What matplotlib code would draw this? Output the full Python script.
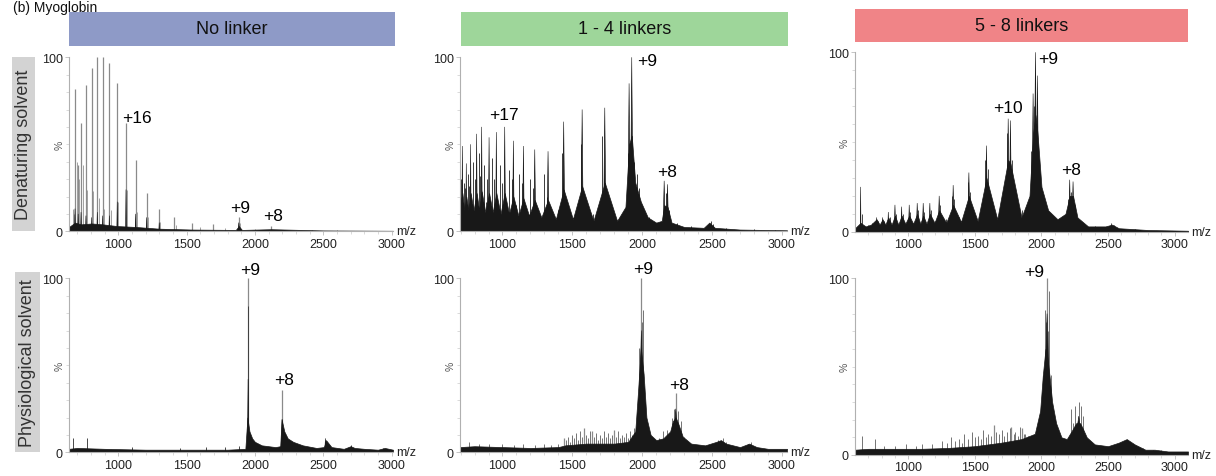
import matplotlib
matplotlib.use("Agg")
import matplotlib.pyplot as plt
from matplotlib.patches import Rectangle

plt.rcParams['font.family'] = ['Liberation Sans', 'DejaVu Sans']

W, H = 1216, 477

# ---------------- data (m/z, relative intensity %) ----------------
col_titles = ["No linker", "1 - 4 linkers", "5 - 8 linkers"]
row_titles = ["Denaturing solvent", "Physiological solvent"]
x_ticks = [1000, 1500, 2000, 2500, 3000]

# Panel A: denaturing, no linker
A_xlim = (640, 3010)
A_env_mz = [640, 684, 728, 806, 886, 993, 1127, 1300, 1541, 1860, 1882, 1905, 2121, 2500, 3010]
A_env_hi = [2.5, 5, 4, 4.5, 4, 3, 2.5, 1.5, 1, 0.8, 3, 0.8, 1.2, 0.5, 0.3]
A_pk_mz = [684, 707, 728, 764, 806, 847, 886, 935, 993, 1057, 1127, 1208, 1300, 1882]
A_pk_h = [13, 10, 11, 9, 8, 11, 9, 9, 17, 24, 10, 8, 5, 5]
A_pk_w = [3, 3, 3, 3, 3, 3, 3, 3, 3, 3, 3, 3, 3, 5]
A_major_mz = [684, 707, 728, 764, 806, 847, 886, 935, 993, 1057, 1127, 1208, 1300, 1410, 1541, 1695, 1882, 2121]
A_major_h = [82, 38, 62, 84, 94, 100, 100, 97, 85, 62, 41, 22, 13, 8, 5, 4, 8.5, 3]
A_line_mz = [667, 676, 695, 716, 740, 775, 818, 858, 898, 946, 1000, 1064, 1134, 1215, 1308, 1420, 1600, 1780,
             1888, 2000, 2200, 2420, 2600]
A_line_h = [13, 10, 40, 30, 38, 24, 23, 19, 13, 12, 17, 24, 11, 8, 5.5, 3.6, 2.3, 1.7, 5, 1.3, 1, 1, 0.8]
A_labels = [("+16", 1137, 65.4), ("+9", 1890, 13.4), ("+8", 2131, 9.1)]

# Panel B: denaturing, 1-4 linkers
B_xlim = (696, 3036)
B_env_mz = [696, 713, 727, 741, 756, 772, 793, 815, 833, 851, 877, 904, 930, 956, 986, 1016, 1047, 1078,
            1114, 1150, 1190, 1231, 1278, 1326, 1382, 1438, 1504, 1570, 1651, 1732, 1820, 1880, 1906, 1925,
            1950, 1990, 2040, 2100, 2140, 2157, 2181, 2210, 2300, 2440, 2480, 2520, 2700, 3036]
B_env_hi = [14, 22, 12, 20, 12, 22, 12, 22, 12, 23, 11, 22, 11, 22, 10, 22, 10, 20,
            9, 19, 9, 18, 8, 18, 7, 24, 7, 26, 6, 28, 6, 14, 50, 55,
            28, 17, 8, 5, 6, 15, 14, 5, 2.5, 2, 5, 2, 1, 0.6]
B_pk_mz = [713, 741, 772, 815, 851, 904, 956, 1016, 1078, 1150, 1231, 1326, 1438, 1570, 1732, 1906, 1925, 2157, 2181]
B_pk_h = [49, 39, 50, 56, 60, 54, 57, 60, 52, 49, 47, 46, 63, 70, 71, 85, 100, 29, 27]
B_pk_w = [4, 4, 4, 5, 5, 5, 5, 6, 6, 6, 7, 7, 8, 8, 9, 9, 10, 8, 8]
B_major_mz, B_major_h = [], []
B_line_mz = [700, 705, 722, 735, 750, 760, 790, 800, 830, 840, 870, 890, 925, 940, 985, 1000, 1050, 1065, 1120,
             1140, 1200, 1215, 1300, 1315, 1428, 1560, 1715, 1895, 1940, 1960, 1975, 2000, 2170, 2195, 2490,
             2510, 880, 1100, 1250, 1400, 1650, 1800, 2050, 2250, 2350, 2600, 2800, 2950]
B_line_h = [30, 20, 28, 25, 33, 26, 40, 30, 45, 32, 38, 30, 42, 30, 38, 28, 35, 30, 33,
            28, 30, 25, 33, 20, 45, 50, 55, 45, 40, 33, 25, 15, 22, 12, 6,
            4, 17, 15, 13, 12, 10, 10, 8, 5, 3, 2, 1.5, 1]
B_labels = [("+17", 1009, 66.9), ("+9", 2036, 98.2), ("+8", 2180, 34.4)]

# Panel C: denaturing, 5-8 linkers
C_xlim = (600, 3100)
C_env_mz = [600, 642, 680, 720, 762, 785, 807, 828, 850, 875, 900, 925, 950, 978, 1007, 1037, 1067, 1090,
            1112, 1137, 1162, 1197, 1232, 1285, 1337, 1396, 1455, 1521, 1587, 1668, 1750, 1767, 1850, 1910,
            1937, 1955, 1970, 2000, 2050, 2120, 2180, 2212, 2237, 2270, 2350, 2480, 2530, 2580, 2800, 3100]
C_env_hi = [2, 5, 3, 4, 7, 4, 7, 4, 8, 4, 9, 4, 9, 4.5, 9, 4.5, 10, 4.5,
            9, 4.5, 10, 5, 12, 5, 15, 5.5, 20, 6, 30, 7, 40, 38, 8, 20,
            55, 65, 55, 25, 12, 7, 10, 20, 20, 8, 3, 3, 4, 2, 1, 0.6]
C_pk_mz = [642, 762, 807, 850, 900, 950, 1007, 1067, 1112, 1162, 1232, 1337, 1455, 1587, 1750, 1767, 1937, 1955,
           1970, 2212, 2237]
C_pk_h = [25, 8, 8, 11, 15, 14, 15, 16, 16, 16, 20, 26, 33, 48, 63, 62, 77, 100, 87, 29, 28]
C_pk_w = [3, 5, 5, 5, 6, 6, 6, 7, 7, 7, 8, 8, 9, 10, 10, 10, 10, 12, 10, 9, 9]
C_major_mz, C_major_h = [], []
C_line_mz = [652, 770, 815, 860, 910, 960, 1015, 1075, 1120, 1170, 1240, 1325, 1345, 1445, 1462, 1577, 1595,
             1740, 1780, 1925, 1945, 1985, 2000, 2200, 2225, 2250, 2520, 2545, 2700, 700, 730, 1200, 1280,
             1380, 1500, 1650, 1700, 1850, 2100, 2300, 2400]
C_line_h = [10, 6, 6, 8, 10, 10, 11, 12, 11, 12, 15, 20, 18, 28, 22, 40, 35,
            55, 40, 45, 70, 40, 25, 18, 22, 15, 5, 4, 1.5, 4, 5, 6, 7,
            8, 9, 10, 11, 12, 7, 5, 3]
C_labels = [("+10", 1747, 69.5), ("+9", 2047, 96.3), ("+8", 2224, 34.8)]

# Panel D: physiological, no linker
D_xlim = (640, 3010)
D_env_mz = [640, 700, 900, 1200, 1500, 1800, 1930, 1945, 1960, 1980, 2000, 2050, 2100, 2150, 2185, 2195,
            2215, 2240, 2280, 2350, 2450, 2505, 2520, 2560, 2650, 2700, 2730, 2800, 2900, 2950, 3010]
D_env_hi = [2, 2.5, 2, 1.5, 1.5, 1.5, 2, 20, 12, 8, 6, 4, 3.5, 3, 3.5, 19,
            12, 8, 6, 4, 2.5, 3, 7, 3, 2, 3.5, 2.5, 2, 1.5, 2.5, 1.5]
D_pk_mz = [1950, 2199, 2516]
D_pk_h = [42, 19, 8]
D_pk_w = [5, 5, 6]
D_major_mz = [1950, 2201]
D_major_h = [100, 36]
D_line_mz = [1948, 667, 774, 1100, 1450, 1640, 1780, 1880, 2109, 2705, 2937]
D_line_h = [84, 8, 8, 3, 2.5, 3, 3, 3.5, 3, 4, 2.5]
D_labels = [("+9", 1966, 105), ("+8", 2211, 42)]

# Panel E: physiological, 1-4 linkers
E_xlim = (696, 3036)
E_env_mz = [696, 800, 1000, 1200, 1400, 1450, 1600, 1800, 1900, 1950, 1970, 1990, 2010, 2030, 2060, 2100,
            2150, 2200, 2220, 2240, 2260, 2290, 2350, 2450, 2530, 2563, 2600, 2700, 2765, 2820, 2900, 3036]
E_env_hi = [3, 3.5, 3, 2.5, 3, 4, 5, 5, 6, 12, 35, 60, 45, 20, 10, 7,
            8, 12, 18, 20, 16, 9, 5, 4, 6, 7, 5, 3, 5, 3, 2, 2]
E_pk_mz = [1994, 2240]
E_pk_h = [70, 25]
E_pk_w = [22, 22]
E_major_mz = [1994, 2240, 1440, 1585, 1640, 1795]
E_major_h = [100, 34, 8, 14, 12, 13]
E_line_mz = [2009, 1978, 2000, 2230, 2255, 2216, 2276,
             1452, 1468, 1483, 1497, 1512, 1526, 1541, 1556, 1570, 1600, 1615, 1628, 1655, 1668, 1682, 1697,
             1712, 1726, 1741, 1756, 1770, 1783, 1810, 1825, 1840, 1854, 1868, 1883, 1898, 1912, 1926, 1940,
             1955, 2120, 2150, 2180, 2300, 2330, 2540, 2580, 2600, 2760, 2780, 760, 830, 900, 1000, 1080, 1150,
             1230, 1300, 1350, 1400]
E_line_h = [82, 60, 75, 25, 24, 20, 18,
            7, 9, 6, 10, 8, 11, 7, 12, 9, 10, 8, 12, 9, 11, 7, 10,
            8, 12, 9, 11, 8, 10, 9, 12, 8, 10, 9, 11, 8, 12, 10, 14,
            11, 8, 12, 13, 9, 6, 7, 8, 6, 5, 6, 6, 5, 5, 5, 4, 5,
            4, 5, 4, 5]
E_labels = [("+9", 2008, 105.6), ("+8", 2266, 39)]

# Panel F: physiological, 5-8 linkers
F_xlim = (600, 3100)
F_env_mz = [600, 700, 900, 1100, 1300, 1500, 1700, 1850, 1950, 1990, 2010, 2030, 2045, 2060, 2080, 2110,
            2150, 2190, 2230, 2260, 2290, 2310, 2340, 2400, 2500, 2580, 2640, 2700, 2780, 2850, 2950, 3100]
F_env_hi = [3, 3.5, 3.5, 3.5, 4, 5, 7, 9, 12, 25, 45, 60, 55, 45, 30, 18,
            10, 9, 14, 18, 18, 15, 10, 6, 5, 7, 9, 6, 3, 3, 2, 2]
F_pk_mz = [2042, 2280]
F_pk_h = [80, 22]
F_pk_w = [30, 40]
F_major_mz = [2042, 1645, 1770, 1850]
F_major_h = [100, 17, 16, 15]
F_line_mz = [2025, 2057, 2035, 2050, 2015, 2070, 2225, 2255, 2280, 2295, 2310, 2240, 2637, 2837, 650, 750,
             820, 900, 980, 1060, 1100, 1180, 1250, 1290, 1320, 1350, 1380, 1405, 1420, 1445, 1480, 1500, 1520,
             1545, 1560, 1580, 1600, 1620, 1660, 1680, 1700, 1720, 1740, 1760, 1790, 1800, 1820, 1840, 1870,
             1880, 1900, 1920, 1940, 2680, 2760, 2900]
F_line_h = [82, 93, 75, 70, 45, 45, 26, 28, 30, 28, 22, 18, 8, 3, 11, 9,
            5, 5, 6, 5, 6, 6, 8, 7, 10, 8, 9, 7, 12, 9, 13, 10, 11,
            9, 14, 10, 12, 11, 13, 12, 14, 11, 13, 15, 12, 13, 11, 16, 12,
            12, 11, 10, 11, 5, 4, 3]
F_labels = [("+9", 1942, 104)]

# ---------------- layout (pixels) ----------------
fig = plt.figure(figsize=(W / 100, H / 100), dpi=100)


def px_axes(l, t, r, b):
    return fig.add_axes([l / W, 1 - b / H, (r - l) / W, (b - t) / H])


cols_lr = [(69, 393), (460, 787), (855, 1188)]
row_tb = [[(58.3, 232.3), (58.3, 232.3), (53.3, 232.8)],
          [(279.3, 453.3), (279.3, 453.3), (279.3, 456)]]

panels = [
    [(A_xlim, A_env_mz, A_env_hi, A_pk_mz, A_pk_h, A_pk_w, A_major_mz, A_major_h, A_line_mz, A_line_h, A_labels),
     (B_xlim, B_env_mz, B_env_hi, B_pk_mz, B_pk_h, B_pk_w, B_major_mz, B_major_h, B_line_mz, B_line_h, B_labels),
     (C_xlim, C_env_mz, C_env_hi, C_pk_mz, C_pk_h, C_pk_w, C_major_mz, C_major_h, C_line_mz, C_line_h, C_labels)],
    [(D_xlim, D_env_mz, D_env_hi, D_pk_mz, D_pk_h, D_pk_w, D_major_mz, D_major_h, D_line_mz, D_line_h, D_labels),
     (E_xlim, E_env_mz, E_env_hi, E_pk_mz, E_pk_h, E_pk_w, E_major_mz, E_major_h, E_line_mz, E_line_h, E_labels),
     (F_xlim, F_env_mz, F_env_hi, F_pk_mz, F_pk_h, F_pk_w, F_major_mz, F_major_h, F_line_mz, F_line_h, F_labels)],
]
line_colors = [['#9a9a9a', '#2e2e2e', '#3a3a3a'], ['#3a3a3a', '#6a6a6a', '#6a6a6a']]

dark = '#181818'
for r in range(2):
    for c in range(3):
        xlim, emz, ehi, pmz, ph, pw, mmz, mh, lmz, lh, labels = panels[r][c]
        l, rr = cols_lr[c]
        t, b = row_tb[r][c]
        ax = px_axes(l, t, rr, b)
        ax.vlines(mmz, 0, mh, color='#8a8a8a', lw=0.9, zorder=1)
        ax.vlines(lmz, 0, lh, color=line_colors[r][c], lw=0.65, zorder=1.5)
        ax.fill_between(emz, 0, ehi, color=dark, lw=0.5, zorder=2)
        for m, h, w in zip(pmz, ph, pw):
            ax.fill([m - w, m, m + w], [0, h, 0], color=dark, lw=0.4, zorder=2)
        ax.set_xlim(*xlim)
        ax.set_ylim(0, 100)
        for s in ['top', 'right']:
            ax.spines[s].set_visible(False)
        for s in ['left', 'bottom']:
            ax.spines[s].set_color('#b0b0b0')
            ax.spines[s].set_linewidth(0.8)
        ax.set_xticks(x_ticks)
        ax.set_xticks(range(700, 3100, 100), minor=True)
        ax.set_yticks([0, 100])
        ax.set_yticks(range(10, 100, 10), minor=True)
        ax.tick_params(axis='both', which='major', labelsize=9, colors='#bbbbbb',
                       labelcolor='#222222', length=3, width=0.6, pad=1.5)
        ax.tick_params(axis='both', which='minor', colors='#cccccc', length=2, width=0.5)
        ax.text(-0.03, 0.5, '%', rotation=90, transform=ax.transAxes, ha='center', va='center',
                fontsize=7.5, color='#555555')
        ax.text(1.01, 0.0, 'm/z', transform=ax.transAxes, ha='left', va='center',
                fontsize=9, color='#222222')
        for txt, x, y in labels:
            ax.text(x, y, txt, ha='center', va='center', fontsize=12.5, color='black',
                    clip_on=False, zorder=5)

# column header boxes
hdr = [(69, 13, 395, 47, '#8E9AC7'), (461, 13, 788, 47, '#9ED69A'), (855, 10, 1188, 43, '#F08487')]
for (l, t, rr, b, col), name in zip(hdr, col_titles):
    fig.patches.append(Rectangle((l / W, 1 - b / H), (rr - l) / W, (b - t) / H,
                                 transform=fig.transFigure, facecolor=col, edgecolor='none'))
    fig.text((l + rr) / 2 / W, 1 - (t + b) / 2 / H, name, ha='center', va='center',
             fontsize=13, color='#111111')

# row label boxes
rbox = [(12, 58, 35, 232), (15, 273, 40, 453)]
for (l, t, rr, b), name in zip(rbox, row_titles):
    fig.patches.append(Rectangle((l / W, 1 - b / H), (rr - l) / W, (b - t) / H,
                                 transform=fig.transFigure, facecolor='#d3d3d3', edgecolor='none'))
    fig.text((l + rr) / 2 / W, 1 - (t + b) / 2 / H, name, ha='center', va='center',
             rotation=90, fontsize=13, color='#333333')

# panel title (kept fully inside the figure)
fig.text(13 / W, 1 - 1 / H, '(b) Myoglobin', ha='left', va='top', fontsize=10, color='#111111')

fig.savefig('out.png', dpi=100)
